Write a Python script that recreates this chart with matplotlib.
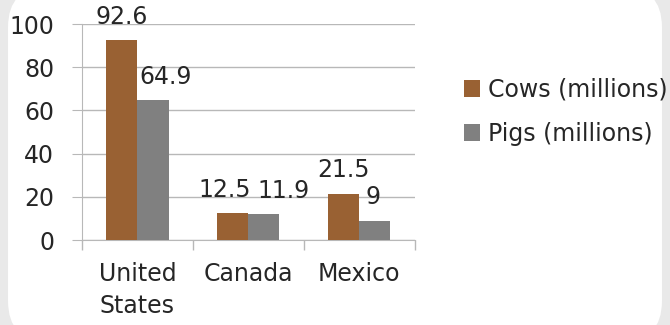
import matplotlib
matplotlib.use("Agg")
import matplotlib.pyplot as plt
import numpy as np
from matplotlib.patches import FancyBboxPatch

categories = ["United\nStates", "Canada", "Mexico"]
series_names = ["Cows (millions)", "Pigs (millions)"]
cows = [92.6, 12.5, 21.5]
pigs = [64.9, 11.9, 9]
yticks = [0, 20, 40, 60, 80, 100]

# horizontal nudges (points) of value labels, as the reference places them
cow_label_dx = [0, -6, 0]
pig_label_dx = [9, 14, -1]

cow_color = "#996133"
pig_color = "#808080"
text_color = "#262626"
grid_color = "#b8b8b8"
fs = 17

plt.rcParams["font.family"] = ["DejaVu Sans"]

fig = plt.figure(figsize=(6.7, 3.25), dpi=100)
fig.patch.set_facecolor("#e9e9e9")
bg = FancyBboxPatch((0.012, -0.05), 0.976, 1.09,
                    boxstyle="round,pad=0,rounding_size=0.06",
                    transform=fig.transFigure, facecolor="white",
                    edgecolor="none", zorder=-10,
                    mutation_aspect=670/325)
fig.patches.append(bg)

ax = fig.add_axes([0.1224, 0.2615, 0.4966, 0.6645])
ax.set_facecolor("none")
x = np.arange(len(categories))
w = 0.28
b1 = ax.bar(x - w/2, cows, w, color=cow_color, label=series_names[0], zorder=3)
b2 = ax.bar(x + w/2, pigs, w, color=pig_color, label=series_names[1], zorder=3)

for bars, vals, dxs in [(b1, cows, cow_label_dx), (b2, pigs, pig_label_dx)]:
    for rect, v, dx in zip(bars, vals, dxs):
        ax.annotate(f"{v:g}", (rect.get_x() + rect.get_width() / 2, rect.get_height()),
                    xytext=(dx, 8), textcoords="offset points", ha="center", va="bottom",
                    fontsize=fs, color=text_color, annotation_clip=False)

ax.set_xlim(-0.5, len(categories) - 0.5)
ax.set_ylim(0, 100)
ax.set_yticks(yticks)
ax.set_yticklabels([str(t) for t in yticks], fontsize=fs, color=text_color)
ax.set_xticks(x)
ax.set_xticklabels(categories, fontsize=fs, color=text_color, linespacing=1.4)
ax.tick_params(axis="x", length=0, pad=16)
ax.set_xticks(np.arange(len(categories) + 1) - 0.5, minor=True)
ax.tick_params(axis="x", which="minor", length=7, color=grid_color, width=1)
ax.tick_params(axis="y", length=7, color=grid_color, pad=13)

ax.yaxis.grid(True, color=grid_color, linewidth=1, zorder=0)
ax.set_axisbelow(True)
for s in ["top", "right"]:
    ax.spines[s].set_visible(False)
ax.spines["left"].set_color(grid_color)
ax.spines["bottom"].set_color(grid_color)

fig.legend(handles=[b1, b2], labels=series_names, loc="upper left",
           bbox_to_anchor=(0.678, 0.79), frameon=False, fontsize=fs,
           handlelength=0.7, handleheight=0.7, handletextpad=0.35,
           labelspacing=0.85, labelcolor=text_color, borderaxespad=0)

fig.savefig("out.png", dpi=100, facecolor=fig.get_facecolor())
